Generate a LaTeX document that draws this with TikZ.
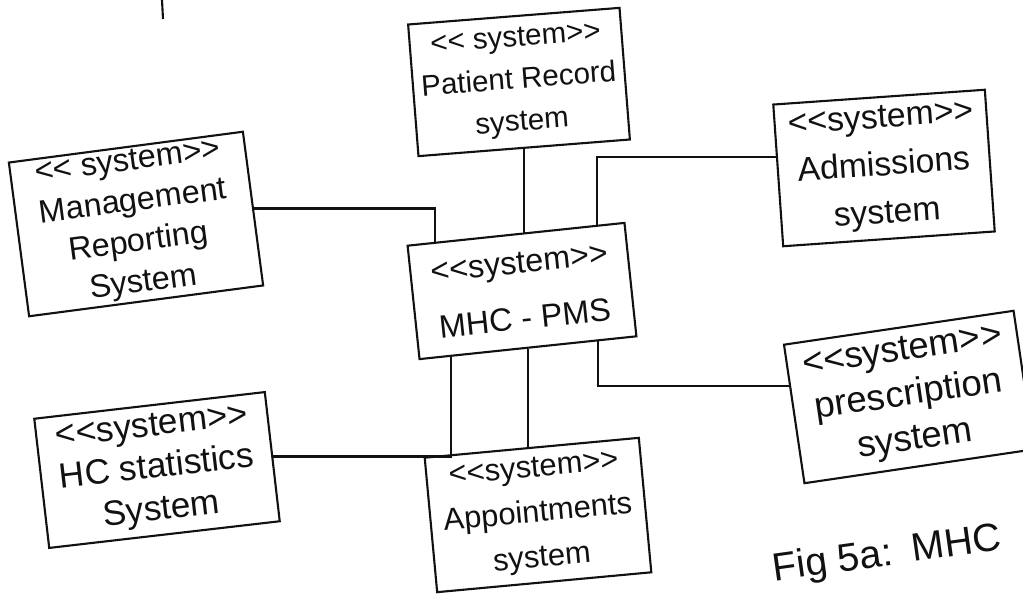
\documentclass[tikz,border=0pt]{standalone}
\usepackage{fontspec}
\setmainfont{Liberation Sans}
\usetikzlibrary{calc}
\definecolor{ink}{HTML}{111111}
\newcommand{\handfont}[2]{\fontsize{#1}{#2}\selectfont}
\tikzset{
  sysbox/.style={draw=ink,line width=1.5pt,align=center,inner sep=0pt,text=ink},
  link/.style={draw=ink,line width=1.5pt},
  caption/.style={text=ink,anchor=base west}
}

\begin{document}
\begin{tikzpicture}[x=0.025cm,y=-0.025cm]
  \useasboundingbox (0,0) rectangle (1023,597);
  % systems
  \node[sysbox,rotate=4.5,minimum width=5.3cm,minimum height=3.3cm,font=\handfont{21}{30}] (patient) at (519,82) {<{}< system>{}>\\Patient Record\\system};
  \node[sysbox,rotate=7.5,minimum width=5.9cm,minimum height=3.875cm,font=\handfont{23}{29}] (mgmt) at (136,224) {<{}< system>{}>\\Management\\Reporting\\System};
  \node[sysbox,rotate=4,minimum width=5.3cm,minimum height=3.55cm,font=\handfont{24}{34}] (adm) at (884,168) {<{}<system>{}>\\Admissions\\system};
  \node[sysbox,rotate=6,minimum width=5.45cm,minimum height=2.85cm,font=\handfont{23}{40}] (mhc) at (522,291) {<{}<system>{}>\\MHC - PMS};
  \node[sysbox,rotate=8.4,minimum width=5.8cm,minimum height=3.5cm,font=\handfont{26}{32}] (presc) at (909,397) {<{}<system>{}>\\prescription\\system};
  \node[sysbox,rotate=6.6,minimum width=5.8cm,minimum height=3.25cm,font=\handfont{25}{30}] (hcstat) at (157,470) {<{}<system>{}>\\HC statistics\\System};
  \node[sysbox,rotate=5.3,minimum width=5.375cm,minimum height=3.375cm,font=\handfont{22}{32}] (appt) at (538,515) {<{}<system>{}>\\Appointments\\system};
  \node[caption,rotate=8,font=\handfont{28}{30}] (cap) at (770,582) {Fig 5a:\enspace MHC};
  % ports on the boxes
  \coordinate (mtopL) at ($(mhc.north west)!0.13!(mhc.north east)$);
  \coordinate (mtopR) at ($(mhc.north west)!0.87!(mhc.north east)$);
  \coordinate (mbotL) at ($(mhc.south west)!0.15!(mhc.south east)$);
  \coordinate (mbotR) at ($(mhc.south west)!0.82!(mhc.south east)$);
  \coordinate (admIn) at ($(adm.north west)!0.37!(adm.south west)$);
  \coordinate (prescIn) at ($(presc.north west)!0.3!(presc.south west)$);
  % links
  \draw[link] (patient.south) -- (patient.south |- mhc.north);
  \draw[link] (mgmt.east) -| (mtopL);
  \draw[link] (admIn) -| (mtopR);
  \draw[link] (mbotL) |- (hcstat.east);
  \draw[link] (mhc.south) -- (mhc.south |- appt.north);
  \draw[link] (mbotR) |- (prescIn);
  \draw[link] (162,0) -- (163,19);
\end{tikzpicture}
\end{document}
